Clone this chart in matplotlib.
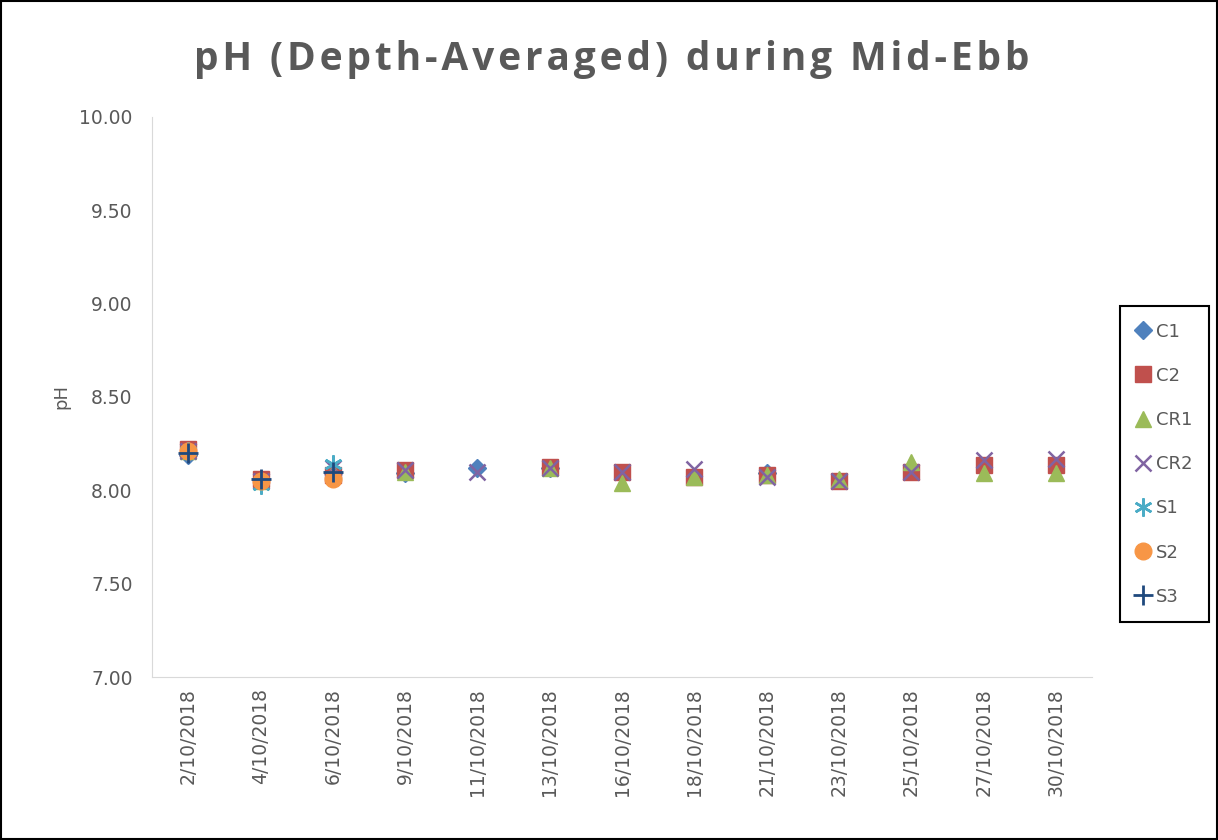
import numpy as np
from matplotlib import pyplot as plt
from matplotlib.patches import Rectangle

nan = np.nan

dates = ['2/10/2018', '4/10/2018', '6/10/2018', '9/10/2018', '11/10/2018',
         '13/10/2018', '16/10/2018', '18/10/2018', '21/10/2018', '23/10/2018',
         '25/10/2018', '27/10/2018', '30/10/2018']

c1 = [8.19, 8.06, 8.09, 8.09, 8.12, 8.12, nan, nan, 8.09, nan, nan, nan, nan]
c2 = [8.22, 8.06, 8.08, 8.11, nan, 8.125, 8.10, 8.07, 8.08, 8.05, 8.10, 8.135, 8.135]
cr1 = [8.21, 8.05, 8.10, 8.10, nan, 8.12, 8.04, 8.07, 8.08, 8.06, 8.15, 8.095, 8.09]
cr2 = [8.21, 8.05, 8.12, 8.11, 8.10, 8.12, 8.10, 8.115, 8.07, 8.05, 8.10, 8.16, 8.17]
s1 = [8.21, 8.03, 8.14, nan, nan, nan, nan, nan, nan, nan, nan, nan, nan]
s2 = [8.21, 8.05, 8.06, nan, nan, nan, nan, nan, nan, nan, nan, nan, nan]
s3 = [8.20, 8.06, 8.10, nan, nan, nan, nan, nan, nan, nan, nan, nan, nan]

series = [
    ('C1', c1, 'D', '#4F81BD', 9, 1),
    ('C2', c2, 's', '#C0504D', 12, 1),
    ('CR1', cr1, '^', '#9BBB59', 12, 1),
    ('CR2', cr2, 'x', '#8064A2', 12, 1.8),
    ('S1', s1, (6, 2, 0), '#4BACC6', 13, 1.8),
    ('S2', s2, 'o', '#F79646', 12, 1),
    ('S3', s3, '+', '#1F497D', 14, 2),
]

fig = plt.figure(figsize=(12.18, 8.4), dpi=100)
ax = fig.add_axes([0.1248, 0.194, 0.772, 0.667])

x = np.arange(len(dates))
for name, vals, mk, col, ms, mew in series:
    ax.plot(x, vals, linestyle='none', marker=mk, color=col, markersize=ms,
            markeredgewidth=mew, label=name)

ax.set_xlim(-0.5, len(dates) - 0.5)
ax.set_ylim(7.0, 10.0)
ax.set_yticks(np.arange(7.0, 10.01, 0.5))
ax.set_yticklabels([f'{v:.2f}' for v in np.arange(7.0, 10.01, 0.5)])
ax.set_xticks(x)
ax.set_xticklabels(dates, rotation=90)
ax.tick_params(axis='both', length=0, labelcolor='#595959')
ax.tick_params(axis='x', pad=8, labelsize=13.5)
ax.tick_params(axis='y', pad=14, labelsize=13.5)
for s in ['top', 'right']:
    ax.spines[s].set_visible(False)
ax.spines['left'].set_color('#D9D9D9')
ax.spines['bottom'].set_color('#D9D9D9')

ax.set_ylabel('pH', fontsize=13, color='#595959', labelpad=6)

title = '\u200a'.join('pH (Depth-Averaged) during Mid-Ebb')
fig.text(0.502, 0.929, title, ha='center', va='center', fontsize=28,
         fontweight='bold', color='#595959', family=['Open Sans', 'DejaVu Sans'])

leg = ax.legend(loc='upper left', bbox_to_anchor=(0.912, 0.646),
                bbox_transform=fig.transFigure, fontsize=13, labelspacing=1.45,
                handlelength=0.8, handletextpad=0.3, borderpad=0.9,
                fancybox=False, framealpha=1, labelcolor='#595959')
leg.get_frame().set_edgecolor('black')
leg.get_frame().set_linewidth(1.5)

fig.patches.append(Rectangle((0.001, 0.001), 0.998, 0.998, transform=fig.transFigure,
                             fill=False, edgecolor='black', linewidth=1.5))

plt.savefig('out.png', dpi=100)
